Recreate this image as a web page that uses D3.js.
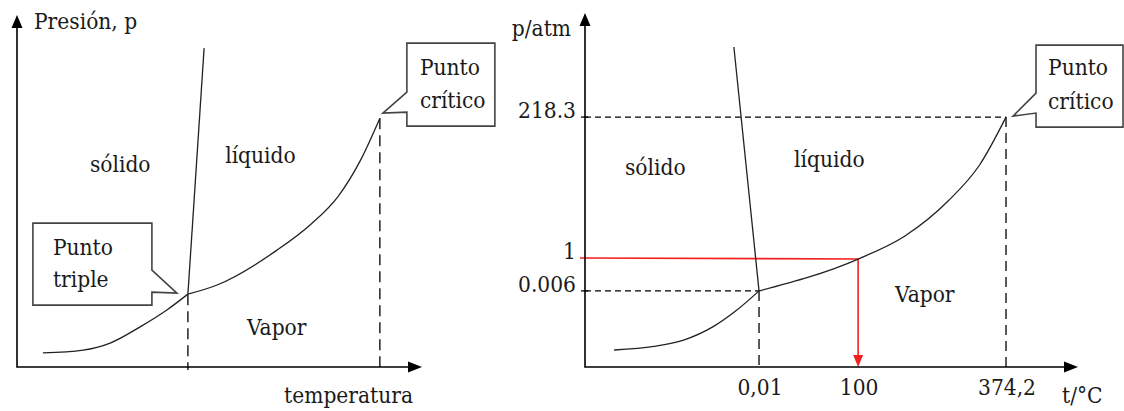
<!DOCTYPE html>
<html>
<head>
<meta charset="utf-8">
<script src="https://cdn.jsdelivr.net/npm/d3@7"></script>
<style>
    body { margin: 0; background: #fff; }
</style>
</head>
<body>
<div id="chart"></div>
<script>
// schematic units, 0..100 on both axes of each panel

// left panel (generic diagram)
var leftSublimation = [[6.4, 4.0], [16.3, 4.8], [23.0, 6.8], [30.4, 11.4], [37.0, 16.2], [42.2, 20.7]]
var leftVaporization = [[42.2, 20.7], [49.4, 23.3], [64.2, 33.2], [72.5, 40.5], [79.3, 48.5], [84.7, 58.5], [89.6, 70.7]]
var leftFusion = [[42.2, 20.7], [46.2, 90.6]]
var leftTriple = [42.2, 20.7]
var leftCritical = [89.6, 70.7]
var leftRegions = ['sólido', 'líquido', 'Vapor']
var leftRegionPos = [[18.0, 55.4], [51.4, 58.0], [56.8, 9.1]]

// right panel (water)
var rightSublimation = [[5.9, 4.8], [14.0, 5.8], [20.0, 7.6], [26.0, 11.4], [31.0, 16.3], [35.3, 21.5]]
var rightVaporization = [[35.3, 21.5], [55.4, 30.5], [64.9, 37.0], [73.6, 46.8], [80.1, 57.2], [85.4, 70.6]]
var rightFusion = [[35.3, 21.5], [30.2, 90.4]]
var rightTriple = [35.3, 21.5]
var rightCritical = [85.4, 70.6]
var rightBoiling = [55.4, 30.5]
var rightRegions = ['sólido', 'líquido', 'Vapor']
var rightRegionPos = [[8.1, 54.2], [42.4, 56.5], [62.9, 18.4]]
var yTickLabels = ['218.3', '1', '0.006']
var yTickValues = [70.6, 30.8, 21.5]
var xTickLabels = ['0,01', '100', '374,2']
var xTickValues = [35.3, 55.4, 85.4]

var width = 1124, height = 411
var serif = 'DejaVu Serif Condensed'

var svg = d3.select('#chart').append('svg')
    .attr('width', width)
    .attr('height', height)
    .attr('font-family', serif)
    .attr('font-size', 22.5)
    .attr('fill', '#1a1a1a')

var line = d3.line().curve(d3.curveMonotoneX)

function drawAxes(g, x, y) {
    var x0 = x.range()[0], x1 = x.range()[1]
    var y0 = y.range()[0], y1 = y.range()[1]
    g.append('path')
        .attr('d', 'M' + x0 + ',' + (y1 + 6) + 'V' + y0 + 'H' + (x1 - 6))
        .attr('fill', 'none')
        .attr('stroke', '#000')
        .attr('stroke-width', 1.6)
    // arrowheads
    g.append('path')
        .attr('d', 'M' + x0 + ',' + y1 + 'L' + (x0 - 5.5) + ',' + (y1 + 13) + 'L' + (x0 + 5.5) + ',' + (y1 + 13) + 'Z')
        .attr('fill', '#000')
    g.append('path')
        .attr('d', 'M' + x1 + ',' + y0 + 'L' + (x1 - 14) + ',' + (y0 - 5.5) + 'L' + (x1 - 14) + ',' + (y0 + 5.5) + 'Z')
        .attr('fill', '#000')
}

function drawCurves(g, x, y, sets) {
    sets.forEach(function(pts) {
        g.append('path')
            .attr('d', line(pts.map(function(d) { return [x(d[0]), y(d[1])] })))
            .attr('fill', 'none')
            .attr('stroke', '#222')
            .attr('stroke-width', 1.3)
    })
}

function dashed(g, x1, y1, x2, y2, dash) {
    g.append('line')
        .attr('x1', x1).attr('y1', y1)
        .attr('x2', x2).attr('y2', y2)
        .attr('stroke', '#000')
        .attr('stroke-width', 1.3)
        .attr('stroke-dasharray', dash)
}

function label(g, x, y, s, anchor) {
    return g.append('text')
        .attr('x', x)
        .attr('y', y)
        .attr('font-family', serif)
        .attr('text-anchor', anchor || 'start')
        .text(s)
}

// callout box; o holds offsets from the point it refers to
function callout(g, px, py, o, lines) {
    var l = px + o.left, r = px + o.right, t = py + o.top, b = py + o.bottom
    var d
    if (o.side === 'right') {
        d = 'M' + l + ',' + t + 'H' + r + 'V' + (py + o.n1) + 'L' + (px + o.tx) + ',' + (py + o.ty) +
            'L' + r + ',' + (py + o.n2) + 'V' + b + 'H' + l + 'Z'
    } else {
        d = 'M' + l + ',' + t + 'H' + r + 'V' + b + 'H' + l + 'V' + (py + o.n2) +
            'L' + (px + o.tx) + ',' + (py + o.ty) + 'L' + l + ',' + (py + o.n1) + 'Z'
    }
    g.append('path')
        .attr('d', d)
        .attr('fill', '#fff')
        .attr('stroke', '#444')
        .attr('stroke-width', 1.6)
    lines.forEach(function(s, i) {
        label(g, l + o.pad, t + o.base[i], s)
    })
}

function regionLabels(g, x, y, names, pos) {
    names.forEach(function(d, i) {
        label(g, x(pos[i][0]), y(pos[i][1]), d)
    })
}

// ---------- left panel ----------
var xL = d3.scaleLinear().domain([0, 100]).range([17, 422])
var yL = d3.scaleLinear().domain([0, 100]).range([367, 15])
var gL = svg.append('g')

dashed(gL, xL(leftTriple[0]), yL(leftTriple[1]), xL(leftTriple[0]), yL(0) + 3, '11,6')
dashed(gL, xL(leftCritical[0]), yL(leftCritical[1]), xL(leftCritical[0]), yL(0), '11,6')
drawCurves(gL, xL, yL, [leftSublimation, leftVaporization, leftFusion])
drawAxes(gL, xL, yL)
regionLabels(gL, xL, yL, leftRegions, leftRegionPos)

label(gL, xL(0) + 17, 29, 'Presión, p')
label(gL, 413, 403, 'temperatura', 'end')

callout(gL, xL(leftTriple[0]), yL(leftTriple[1]),
    { side: 'right', left: -155, right: -36, top: -71, bottom: 11, n1: -24, n2: -2, tx: -11, ty: -1, pad: 20, base: [32, 64] },
    ['Punto', 'triple'])
callout(gL, xL(leftCritical[0]), yL(leftCritical[1]),
    { side: 'left', left: 27, right: 115, top: -75, bottom: 8, n1: -26, n2: -6, tx: 3, ty: -5, pad: 13, base: [32, 65] },
    ['Punto', 'crítico'])

// ---------- right panel ----------
var xR = d3.scaleLinear().domain([0, 100]).range([585, 1078])
var yR = d3.scaleLinear().domain([0, 100]).range([367, 13])
var gR = svg.append('g')

dashed(gR, xR(0), yR(rightCritical[1]), xR(rightCritical[0]), yR(rightCritical[1]), '6,4')
dashed(gR, xR(0), yR(rightTriple[1]), xR(rightTriple[0]), yR(rightTriple[1]), '6,4')
dashed(gR, xR(rightTriple[0]), yR(rightTriple[1]), xR(rightTriple[0]), yR(0), '10,6')
dashed(gR, xR(rightCritical[0]), yR(rightCritical[1]), xR(rightCritical[0]), yR(0), '10,6')

// boiling point at 1 atm
gR.append('path')
    .attr('d', 'M' + (xR(0) - 5) + ',' + yR(yTickValues[1]) + 'L' + xR(rightBoiling[0]) + ',' + yR(rightBoiling[1]) +
        'V' + (yR(0) - 10))
    .attr('fill', 'none')
    .attr('stroke', '#f42020')
    .attr('stroke-width', 1.6)
gR.append('path')
    .attr('d', 'M' + xR(rightBoiling[0]) + ',' + yR(0) + 'L' + (xR(rightBoiling[0]) - 5) + ',' + (yR(0) - 12) +
        'L' + (xR(rightBoiling[0]) + 5) + ',' + (yR(0) - 12) + 'Z')
    .attr('fill', '#f42020')

drawCurves(gR, xR, yR, [rightSublimation, rightVaporization, rightFusion])
drawAxes(gR, xR, yR)
regionLabels(gR, xR, yR, rightRegions, rightRegionPos)

// y ticks
gR.selectAll('line.ytick')
    .data(yTickValues.filter(function(d, i) { return i !== 1 }))
    .enter()
    .append('line')
    .attr('class', 'ytick')
    .attr('x1', xR(0) - 4).attr('x2', xR(0) + 3)
    .attr('y1', function(d) { return yR(d) })
    .attr('y2', function(d) { return yR(d) })
    .attr('stroke', '#000')
    .attr('stroke-width', 1.3)
yTickLabels.forEach(function(d, i) {
    label(gR, xR(0) - 9, yR(yTickValues[i]) + 1, d, 'end')
})
xTickLabels.forEach(function(d, i) {
    label(gR, xR(xTickValues[i]) + 1, 395, d, 'middle')
})

label(gR, xR(0) - 14, 36, 'p/atm', 'end')
label(gR, 1062, 403, 't/°C')

callout(gR, xR(rightCritical[0]), yR(rightCritical[1]),
    { side: 'left', left: 30, right: 117, top: -72, bottom: 10, n1: -24, n2: -4, tx: 7, ty: -1, pad: 12, base: [30, 64] },
    ['Punto', 'crítico'])
</script>
</body>
</html>
